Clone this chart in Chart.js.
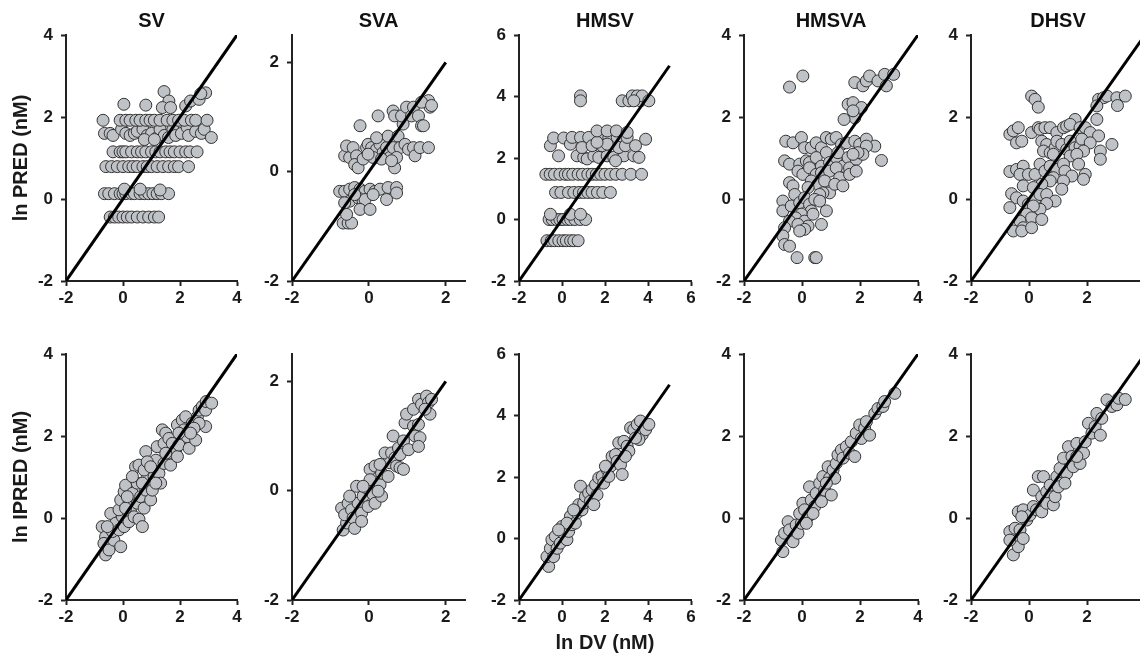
<!DOCTYPE html>
<html>
<head>
<meta charset="utf-8">
<script src="https://cdn.jsdelivr.net/npm/chart.js@4.4.1/dist/chart.umd.min.js"></script>
<style>
  html, body { margin: 0; padding: 0; background: #fff; }
  body { position: relative; width: 1140px; height: 658px; overflow: hidden; }
  canvas { position: absolute; }
</style>
</head>
<body>
<script>
// panel names, axis limits and tick labels
const models = ['SV', 'SVA', 'HMSV', 'HMSVA', 'DHSV'];
const axisTicks = [[-2, 0, 2, 4], [-2, 0, 2], [-2, 0, 2, 4, 6], [-2, 0, 2, 4], [-2, 0, 2, 4]];
const axisMin = -2;
const axisMax = [4, 2.5, 6, 4, 4];
const lineEnd = [4, 2, 5, 4, 4];
const rowTitles = ['ln PRED (nM)', 'ln IPRED (nM)'];
const xTitle = 'ln DV (nM)';

// [ln DV, ln PRED] top row
const svPred = [
  [-0.45,-0.44],[-0.3,-0.44],[-0.15,-0.44],[0,-0.44],[0.15,-0.44],[0.3,-0.44],[0.5,-0.44],[0.7,-0.44],[0.9,-0.44],[1.1,-0.44],[1.25,-0.44],
  [-0.65,0.13],[-0.5,0.13],[-0.3,0.13],[-0.1,0.13],[0,0.13],[0.1,0.13],[0.3,0.13],[0.4,0.13],[0.6,0.13],[0.75,0.13],[0.9,0.13],[1.05,0.13],[1.2,0.13],[1.35,0.13],[1.6,0.13],[0.05,0.24],[0.6,0.24],[1.3,0.22],
  [-0.6,0.79],[-0.4,0.79],[-0.2,0.79],[0,0.79],[0.2,0.79],[0.35,0.79],[0.5,0.79],[0.7,0.79],[0.85,0.79],[1,0.79],[1.2,0.79],[1.4,0.79],[1.6,0.79],[1.8,0.79],[1.95,0.79],[2.3,0.79],
  [-0.35,1.15],[-0.1,1.15],[0,1.15],[0.1,1.15],[0.3,1.15],[0.5,1.15],[0.65,1.15],[0.8,1.15],[1,1.15],[1.15,1.15],[1.3,1.15],[1.5,1.15],[1.65,1.15],[1.8,1.15],[2,1.15],[2.2,1.15],[2.35,1.15],[2.6,1.15],
  [-0.65,1.6],[-0.45,1.6],[-0.35,1.55],[-0.05,1.7],[0.1,1.6],[0.25,1.55],[0.4,1.6],[0.5,1.65],[0.7,1.7],[0.85,1.55],[1,1.6],[1.2,1.5],[1.3,1.7],[1.45,1.55],[1.6,1.5],[1.75,1.7],[1.85,1.55],[2.05,1.6],[2.25,1.75],[2.3,1.55],[2.55,1.65],[2.75,1.6],[2.85,1.7],[3.1,1.5],[0.75,1.45],[1.1,1.45],
  [-0.7,1.92],[-0.1,1.92],[0.1,1.92],[0.25,1.92],[0.45,1.92],[0.6,1.92],[0.8,1.92],[0.95,1.92],[1.1,1.92],[1.3,1.92],[1.55,1.92],[1.75,1.92],[1.95,1.92],[2.15,1.92],[2.4,1.92],[2.55,1.92],[2.95,1.92],
  [0.03,2.31],[0.8,2.29],[1.44,2.62],[1.61,2.39],[1.38,2.23],[1.67,2.23],[2.2,2.27],[2.37,2.39],[2.67,2.43],[2.9,2.59],[2.73,2.57]
];
const svaPred = [
  [-0.67,-0.94],[-0.54,-0.94],[-0.45,-0.94],[-0.58,-0.78],
  [-0.76,-0.36],[-0.63,-0.36],[-0.5,-0.32],[-0.37,-0.29],[-0.23,-0.32],[-0.1,-0.36],[0.03,-0.32],[0.16,-0.36],[0.29,-0.32],[0.5,-0.29],[0.72,-0.29],[0.72,-0.39],
  [-0.5,-0.54],[-0.63,-0.57],[-0.28,-0.48],[-0.15,-0.54],[-0.1,-0.51],[-0.23,-0.69],[0.03,-0.69],[0.46,-0.51],[-0.37,-0.42],[0.11,-0.42],
  [-0.63,0.29],[-0.5,0.26],[-0.58,0.47],[-0.41,0.44],[-0.32,0.29],[-0.37,0.13],[-0.28,0.07],[-0.15,0.23],[-0.06,0.44],[-0.02,0.5],[0.07,0.44],[0.16,0.26],[0.2,0.41],[0.29,0.5],[0.37,0.35],[0.46,0.44],[0.5,0.65],[0.55,0.26],[0.63,0.44],[0.76,0.65],[0.81,0.44],[0.67,0.07],[0.72,0.26],[0.94,0.5],[1.03,0.41],[1.16,0.44],[1.2,0.29],[1.33,0.44],[1.55,0.44],[0.11,0.26],[0.33,0.23],[0.2,0.62],[-0.23,0.84],[-0.02,0.32],[0.59,0.2],
  [0.24,1.02],[0.63,1.11],[0.67,1.02],[0.89,0.87],[0.85,1.02],[0.98,1.18],[1.11,1.02],[1.16,1.18],[1.29,1.02],[1.37,0.84],[1.42,0.84],[1.55,1.3],[1.59,1.18],[1.37,1.27],[1.63,1.21]
];
const hmsvPred = [
  [-0.7,-0.69],[-0.5,-0.69],[-0.35,-0.69],[-0.15,-0.69],[0.05,-0.69],[0.2,-0.69],[0.4,-0.69],[0.55,-0.69],[0.75,-0.69],
  [-0.6,0],[-0.45,0],[-0.25,0],[-0.1,0],[0.05,0],[0.25,0],[0.4,0],[0.6,0],[0.85,0],[1.1,0],[-0.54,0.17],[0.39,0.17],[0.86,0.17],
  [-0.3,0.88],[-0.05,0.88],[0.3,0.88],[0.55,0.88],[0.8,0.88],[1,0.88],[1.2,0.88],[1.4,0.88],[1.65,0.88],[1.9,0.88],[2.25,0.88],
  [-0.75,1.47],[-0.55,1.47],[-0.35,1.47],[-0.1,1.47],[0.15,1.47],[0.3,1.47],[0.5,1.47],[0.75,1.47],[0.95,1.47],[1.2,1.47],[1.4,1.47],[1.6,1.47],[1.8,1.47],[2,1.47],[2.25,1.47],[2.5,1.47],[2.8,1.47],[3.2,1.47],[3.7,1.47],
  [-0.16,2.07],[0.7,2.07],[1.01,2.02],[1.17,1.97],[1.48,2.07],[1.71,2.02],[2.1,2.07],[2.41,2.02],[2.88,2.07],[3.34,2.07],[3.58,2.02],[2.49,1.91],
  [-0.54,2.4],[-0.39,2.65],[0.08,2.65],[0.39,2.45],[0.47,2.67],[0.86,2.67],[0.93,2.34],[1.24,2.67],[1.4,2.4],[1.79,2.67],[1.87,2.4],[2.18,2.67],[2.57,2.67],[2.64,2.34],[2.95,2.4],[3.03,2.67],[3.42,2.4],[3.89,2.61],[2.1,2.45],[1.63,2.51],
  [1.63,2.88],[2.1,2.88],[2.53,2.88],[3.03,2.83],
  [0.86,4.02],[0.86,3.86],[2.8,3.86],[3.11,3.86],[3.27,4.02],[3.5,4.02],[3.65,3.86],[3.73,4.02],[4.04,3.86],[3.34,3.86]
];
const hmsvaPred = [
  [0.03,3],[-0.43,2.73],
  [1.82,2.84],[2.1,2.76],[2.22,2.88],[2.33,3],[2.62,2.88],[2.85,3.04],[2.91,2.76],[3.16,3.04],
  [1.59,2.31],[1.76,2.35],[1.82,1.98],[2.05,2.23],[1.45,1.94],[1.76,2.15],
  [-0.56,1.41],[-0.31,1.37],[-0.02,1.5],[0.09,1.25],[0.32,1.25],[0.49,1.37],[0.67,1.25],[0.84,1.5],[1.01,1.46],[1.18,1.5],[1.36,1.33],[1.53,1.37],[1.82,1.41],[1.99,1.33],[2.22,1.46],[2.51,1.29],[2.74,0.94],[2.22,1.29],
  [-0.6,0.93],[-0.43,0.85],[-0.08,0.85],[0.15,0.93],[0.26,0.89],[0.49,1.01],[0.67,0.8],[0.84,1.13],[0.95,0.89],[1.18,1.01],[1.24,1.13],[1.41,0.8],[1.59,1.01],[1.64,0.76],[1.87,0.97],[2.1,1.09],[1.93,1.13],[1.76,1.09],
  [-0.14,0.68],[0.03,0.6],[0.26,0.76],[0.49,0.6],[0.67,0.64],[0.95,0.68],[1.18,0.76],[1.3,0.52],[1.64,0.6],[1.87,0.68],[0.32,0.44],[0.55,0.36],[0.78,0.44],[0.95,0.15],[1.13,0.36],[1.41,0.32],[-0.43,0.4],[-0.31,0.32],[0.21,0.28],[0.72,0.15],[0.61,0.11],
  [-0.66,-0.05],[-0.25,0.11],[-0.66,-0.29],[-0.37,-0.17],[-0.08,-0.09],[0.09,0.03],[0.26,-0.13],[0.44,-0.01],[0.61,-0.05],[0.84,-0.29],[0.32,-0.29],[-0.02,-0.37],[-0.22,-0.46],[-0.43,-0.54],[0.09,-0.54],[0.21,-0.66],[-0.14,-0.62],[-0.6,-0.7],[0.67,-0.62],[0.38,-0.37],[0.09,-0.74],[-0.08,-0.78],
  [-0.66,-0.9],[-0.6,-1.11],[-0.43,-1.15],[-0.17,-1.43],[0.44,-1.43],[0.49,-1.43]
];
const dhsvPred = [
  [0.09,2.51],[0.21,2.43],[0.32,2.24],
  [2.4,2.43],[2.57,2.47],[2.69,2.51],[3.03,2.47],[3.32,2.51],[3.05,2.28],[2.34,2.27],
  [-0.66,1.58],[-0.54,1.66],[-0.37,1.74],[-0.43,1.37],[-0.25,1.41],[0.09,1.62],[0.32,1.74],[0.38,1.7],[0.55,1.74],[0.73,1.74],[0.96,1.62],[1.19,1.74],[1.3,1.78],[1.59,1.94],[1.42,1.82],[1.76,1.74],[1.94,1.74],[2.11,1.62],[2.34,1.94],[2.4,1.54],[2.86,1.33],[2.46,1.17],[2.46,0.97],
  [0.44,1.41],[0.61,1.33],[0.5,1.17],[0.73,1.13],[0.9,1.25],[0.96,1.41],[1.13,1.33],[1.3,1.21],[1.42,1.41],[1.59,1.25],[1.76,1.29],[1.82,1.46],[2.11,1.37],[1.88,1.17],[0.84,1.09],[1.42,1.05],[1.65,1.09],
  [-0.66,0.67],[-0.43,0.72],[-0.2,0.8],[-0.31,0.6],[-0.02,0.6],[0.21,0.6],[0.38,0.85],[0.55,0.68],[0.73,0.8],[0.96,0.72],[1.19,0.85],[1.24,0.68],[1.48,0.56],[1.71,0.85],[1.94,0.6],[1.88,0.48],[0.84,0.52],[1.19,0.44],[0.73,0.44],[1.13,0.24],[0.44,0.36],
  [-0.2,0.32],[0.15,0.28],[-0.6,0.13],[-0.43,0.03],[-0.66,-0.21],[-0.2,-0.05],[-0.02,-0.13],[0.21,-0.01],[0.38,0.11],[0.61,0.11],[0.9,-0.05],[0.61,-0.11],[0.38,-0.25],[0.15,-0.17],[-0.08,-0.37],[0.09,-0.46],[0.44,-0.5],[-0.31,-0.54],[-0.2,-0.7],[-0.54,-0.78],[-0.25,-0.78],[0.09,-0.7]
];

// [ln DV, ln IPRED] bottom row
const svIpred = [
  [-0.73,-0.21],[-0.61,-0.46],[-0.67,-0.62],[-0.61,-0.9],[-0.49,-0.78],[-0.32,-0.54],[-0.37,-0.33],[-0.43,0.11],[-0.26,-0.13],[-0.08,-0.7],[-0.14,-0.29],[0.04,-0.21],[-0.02,0.03],[-0.14,0.2],[-0.08,0.44],[0.04,0.64],[0.09,0.8],[0.21,0.36],[0.27,0.15],[0.21,-0.09],[0.39,0.03],[0.5,0.36],[0.33,0.6],[0.5,0.85],[0.62,0.52],[0.56,-0.03],[0.68,-0.21],[0.74,0.24],[0.8,0.68],[0.85,1.01],[0.44,1.25],[0.56,1.29],[0.74,1.17],[0.68,0.85],[0.97,0.44],[1.03,0.68],[1.09,1.01],[0.8,1.62],[1.15,1.41],[1.2,1.74],[1.26,1.09],[1.32,0.85],[1.44,1.33],[1.44,1.82],[1.38,2.15],[1.5,2.07],[1.61,1.94],[1.61,1.58],[1.67,1.29],[1.73,1.82],[1.85,1.66],[1.91,1.5],[1.96,1.78],[1.91,2.27],[2.08,2.39],[2.2,2.47],[2.14,2.15],[2.26,1.98],[2.32,1.7],[2.55,1.9],[2.43,2.31],[2.61,2.47],[2.67,2.63],[2.78,2.72],[2.9,2.63],[2.92,2.84],[3.11,2.8],[2.9,2.23],[2.67,2.31],[2.49,2.19],[2.37,2.07],[0.85,1.37],[0.97,1.25],[0.33,1.01],[1.15,0.85],[1.5,1.58],[1.96,2.07],[-0.55,-0.21],[0.09,0.24],[0.15,0.52]
];
const svaIpred = [
  [-0.71,-0.32],[-0.67,-0.72],[-0.58,-0.59],[-0.63,-0.44],[-0.54,-0.23],[-0.45,-0.35],[-0.41,-0.5],[-0.37,-0.69],[-0.28,-0.23],[-0.32,0.08],[-0.19,-0.41],[-0.19,-0.56],[-0.15,-0.1],[-0.06,0.05],[-0.02,-0.29],[0.07,0.14],[0.11,-0.07],[0.16,-0.23],[0.2,0.23],[0.03,0.39],[0.16,0.45],[0.29,0.11],[0.33,-0.1],[0.24,-0.01],[0.33,0.32],[0.42,0.69],[0.5,0.26],[0.55,0.51],[0.59,0.69],[0.68,0.6],[0.72,0.45],[0.81,0.42],[0.9,0.39],[0.63,1],[0.77,0.78],[0.81,0.66],[0.9,0.91],[1.03,0.75],[0.94,1.24],[0.98,1.4],[1.16,1.18],[1.2,1],[1.29,1.21],[1.33,0.97],[1.29,0.81],[1.16,1.49],[1.29,1.67],[1.37,1.58],[1.5,1.73],[1.55,1.61],[1.59,1.4],[1.63,1.67],[1.46,1.49],[0.03,0.2],[-0.15,0.08],[-0.5,-0.1],[0.29,0.48]
];
const hmsvIpred = [
  [-0.62,-0.91],[-0.7,-0.59],[-0.54,-0.32],[-0.47,-0.04],[-0.31,0.07],[-0.39,-0.59],[-0.23,-0.32],[-0.08,-0.15],[0.08,0.17],[0,0.39],[0.23,-0.04],[0.31,0.23],[0.47,0.45],[0.39,0.72],[0.62,0.5],[0.7,0.83],[0.78,1.1],[0.93,0.93],[1.01,1.15],[1.09,1.37],[0.86,1.7],[1.24,1.48],[1.32,1.21],[1.4,1.59],[1.56,1.75],[1.63,1.42],[1.71,1.97],[1.87,2.02],[1.94,1.8],[2.1,2.24],[2.26,2.35],[2.18,2.02],[2.33,2.67],[2.49,2.73],[2.57,2.51],[2.72,2.4],[2.8,2.08],[2.64,3.11],[2.88,3.16],[3.03,3],[3.11,2.84],[2.95,2.67],[3.19,3.6],[3.34,3.54],[3.5,3.71],[3.65,3.82],[3.73,3.38],[3.89,3.54],[4.04,3.71],[3.58,3.22],[3.42,3.27],[0.54,0.93],[0.23,0.5],[-0.16,0.28],[1.48,1.1],[2.02,2.35]
];
const hmsvaIpred = [
  [-0.66,-0.82],[-0.71,-0.54],[-0.6,-0.37],[-0.48,-0.09],[-0.43,-0.29],[-0.31,-0.58],[-0.2,-0.17],[-0.14,-0.37],[-0.02,-0.13],[-0.08,0.11],[0.03,0.36],[0.09,0.2],[0.21,0.03],[0.26,0.76],[0.32,0.44],[0.44,0.28],[0.49,0.6],[0.61,0.85],[0.67,0.4],[0.72,1.01],[0.78,0.68],[0.9,1.25],[0.95,0.97],[1.01,0.56],[1.07,1.17],[1.18,1.33],[1.24,1.54],[1.36,1.66],[1.41,1.46],[1.53,1.74],[1.64,1.58],[1.7,1.86],[1.82,1.5],[1.87,2.07],[1.99,2.27],[2.05,1.94],[2.16,2.19],[2.22,2.35],[2.33,2.02],[2.51,2.55],[2.62,2.67],[2.79,2.72],[2.85,2.84],[3.2,3.04],[1.13,0.97],[0.84,0.85],[0.38,0.11],[0.15,-0.13]
];
const dhsvIpred = [
  [-0.54,-0.9],[-0.37,-0.7],[-0.66,-0.33],[-0.66,-0.54],[-0.48,-0.25],[-0.31,-0.29],[-0.2,-0.5],[-0.37,0.15],[-0.2,0.2],[-0.08,-0.05],[0.03,0.07],[-0.25,0.03],[0.15,0.28],[0.26,0.2],[0.15,0.68],[0.32,1.01],[0.5,1.01],[0.44,0.52],[0.44,0.15],[0.61,0.36],[0.61,0.64],[0.73,0.8],[0.84,0.32],[0.9,0.52],[0.96,1.01],[1.07,1.21],[1.13,0.85],[1.19,1.46],[1.3,1.09],[1.36,1.74],[1.48,1.5],[1.53,1.25],[1.65,1.82],[1.76,1.33],[1.88,1.58],[1.94,1.86],[2.05,2.31],[2.17,2.07],[2.28,2.23],[2.46,2.02],[2.34,2.55],[2.51,2.43],[2.69,2.88],[2.86,2.72],[3.03,2.76],[3.09,2.92],[3.32,2.89],[1.01,0.76],[1.24,0.85],[1.65,1.5]
];

const predSets = [svPred, svaPred, hmsvPred, hmsvaPred, dhsvPred];
const ipredSets = [svIpred, svaIpred, hmsvIpred, hmsvaIpred, dhsvIpred];

Chart.defaults.font.family = '"Liberation Sans", Arial, sans-serif';
Chart.defaults.font.weight = 'bold';
Chart.defaults.color = '#1a1a1a';

// page layout of the panels
const canvasLeft = [0, 252, 479, 704, 931];
const canvasWidth = [249, 225, 224, 226, 226];
const rowTop = [0, 310];
const rowHeight = [310, 348];

function makePanel(row, i, pts) {
  const cv = document.createElement('canvas');
  cv.width = canvasWidth[i];
  cv.height = rowHeight[row];
  cv.style.left = canvasLeft[i] + 'px';
  cv.style.top = rowTop[row] + 'px';
  document.body.appendChild(cv);

  const first = i === 0;
  const showX = row === 1 && i === 2;

  new Chart(cv, {
    type: 'scatter',
    data: {
      datasets: [
        {
          data: [{x: axisMin, y: axisMin}, {x: lineEnd[i], y: lineEnd[i]}],
          showLine: true,
          borderColor: '#000',
          borderWidth: 3,
          pointRadius: 0,
          order: 0
        },
        {
          data: pts.map(p => ({x: p[0], y: p[1]})),
          pointRadius: 6,
          backgroundColor: '#bfc2c6',
          borderColor: '#333',
          borderWidth: 1,
          order: 1
        }
      ]
    },
    options: {
      responsive: false,
      animation: false,
      layout: {padding: {top: row === 0 ? 0 : 44, left: first ? 4 : 0, right: 12, bottom: 0}},
      plugins: {
        legend: {display: false},
        tooltip: {enabled: false},
        title: {
          display: row === 0,
          text: models[i],
          fullSize: false,
          font: {size: 20, weight: 'bold'},
          color: '#111',
          padding: {top: 9, bottom: 2}
        }
      },
      scales: {
        x: {
          type: 'linear',
          min: axisMin,
          max: axisMax[i],
          afterBuildTicks: s => { s.ticks = axisTicks[i].map(v => ({value: v})); },
          afterFit: s => { s.height = row === 0 ? 29 : 58; },
          grid: {drawOnChartArea: false, drawTicks: true, tickLength: 5, tickColor: '#222', tickWidth: 2},
          border: {color: '#222', width: 2},
          ticks: {font: {size: 17, weight: 'bold'}, padding: 2, maxRotation: 0},
          title: {display: showX, text: xTitle, font: {size: 20, weight: 'bold'}, padding: {top: 0, bottom: 3}}
        },
        y: {
          type: 'linear',
          min: axisMin,
          max: axisMax[i],
          afterBuildTicks: s => { s.ticks = axisTicks[i].map(v => ({value: v})); },
          afterFit: s => { s.width = first ? 62 : 40; },
          grid: {drawOnChartArea: false, drawTicks: true, tickLength: 5, tickColor: '#222', tickWidth: 2},
          border: {color: '#222', width: 2},
          ticks: {font: {size: 17, weight: 'bold'}, padding: 8},
          title: {display: first, text: rowTitles[row], font: {size: 20, weight: 'bold'}, padding: {top: 5, bottom: 0}}
        }
      }
    }
  });
}

predSets.forEach((pts, i) => makePanel(0, i, pts));
ipredSets.forEach((pts, i) => makePanel(1, i, pts));
</script>
</body>
</html>
